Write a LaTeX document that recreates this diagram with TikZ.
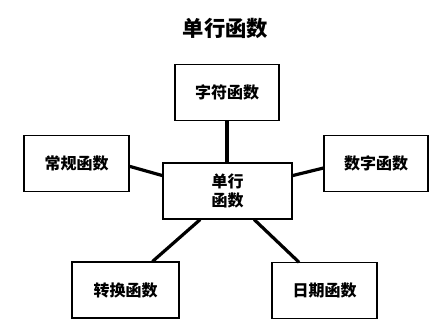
\documentclass[tikz,border=0pt]{standalone}
\usepackage{fontspec}
\newfontfamily\cjk{Noto Sans CJK SC}
\usetikzlibrary{calc}
\begin{document}
\begin{tikzpicture}[x=0.75pt,y=-0.75pt,
  box/.style={draw=black,line width=0.8pt,minimum width=#1*0.75pt,minimum height=41.5pt,inner sep=0pt,font=\cjk\bfseries\fontsize{12}{15}\selectfont,align=center},
  link/.style={line width=2.4pt,line cap=butt}]
\useasboundingbox (0,0) rectangle (447,329);
\node[font=\cjk\bfseries\fontsize{16}{19}\selectfont] (title) at (225.5,28) {单行函数};
\node[box=104] (top) at (227,92.5) {字符函数};
\node[box=105] (left) at (76.5,163.5) {常规函数};
\node[box=104] (right) at (376,163.5) {数字函数};
\node[box=129,minimum height=42pt,font=\cjk\bfseries\fontsize{12}{14.5}\selectfont] (mid) at (227.5,191) {单行\\函数};
\node[box=107,minimum height=42pt] (bl) at (125.5,290) {转换函数};
\node[box=105] (br) at (324.5,290.5) {日期函数};
\draw[link] (top.south) -- (top.south |- mid.north);
\draw[link] ($(left.north east)!0.55!(left.south east)$) -- ($(mid.north west)!0.23!(mid.south west)$);
\draw[link] ($(right.north west)!0.58!(right.south west)$) -- ($(mid.north east)!0.23!(mid.south east)$);
\draw[link] ($(mid.south west)!0.29!(mid.south east)$) -- ($(bl.north west)!0.75!(bl.north east)$);
\draw[link] ($(mid.south west)!0.705!(mid.south east)$) -- ($(br.north west)!0.26!(br.north east)$);
\end{tikzpicture}
\end{document}
